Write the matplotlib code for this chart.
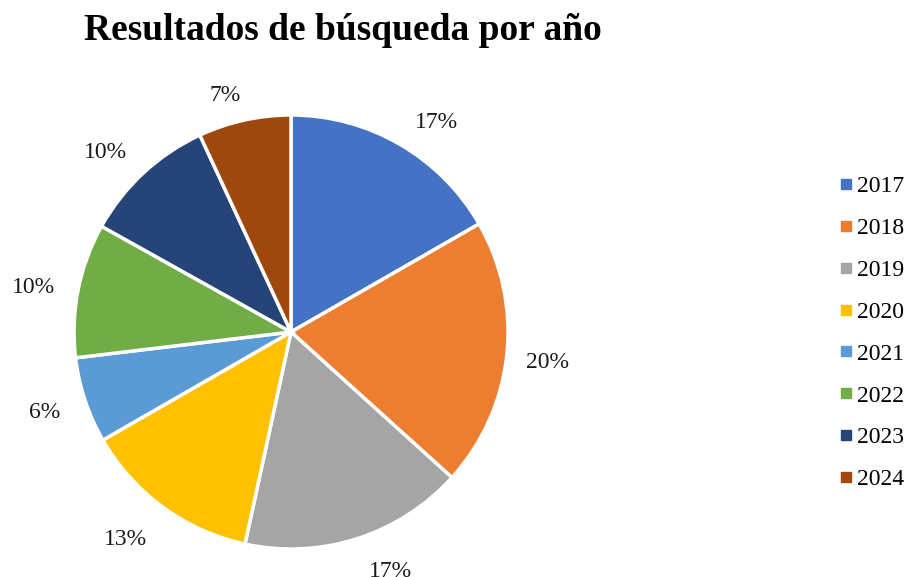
import numpy as np
import matplotlib
matplotlib.use('Agg')
import matplotlib.pyplot as plt
from matplotlib.lines import Line2D

years = ['2017', '2018', '2019', '2020', '2021', '2022', '2023', '2024']
shares = [16.7, 20.0, 16.7, 13.3, 6.4, 10.0, 10.0, 6.9]
colors = ['#4472C4', '#ED7D31', '#A5A5A5', '#FFC000',
          '#5B9BD5', '#70AD47', '#264478', '#9E480E']
# small tweaks so the labels sit where Excel put them
label_nudge = [-4.4, 0, 4.9, -2.8, -0.8, 0.7, 2.7, 3.0]
label_dist = [1.185, 1.19, 1.185, 1.215, 1.19, 1.205, 1.2, 1.145]

plt.rcParams['font.family'] = ['Liberation Serif', 'DejaVu Serif']

fig = plt.figure(figsize=(9.11, 5.77), dpi=100)
W, H = 911, 577
cx, cy, r = 291, 332, 217
ax = fig.add_axes([(cx - r) / W, (H - cy - r) / H, 2 * r / W, 2 * r / H])

wedges, texts, autotexts = ax.pie(
    shares, colors=colors, startangle=90, counterclock=False,
    autopct=lambda p: f'{p:.0f}%', pctdistance=1.19, radius=1,
    wedgeprops=dict(edgecolor='white', linewidth=2.5),
    textprops=dict(fontsize=17, color='#1a1a1a'))

for w, t, nudge, d in zip(wedges, autotexts, label_nudge, label_dist):
    ang = np.deg2rad((w.theta1 + w.theta2) / 2 + nudge)
    t.set_position((d * np.cos(ang), d * np.sin(ang) - 0.012))

ax.set_xlim(-1, 1)
ax.set_ylim(-1, 1)
ax.set_aspect('equal')
ax.axis('off')

fig.text(343 / W, 1 - 30 / H, 'Resultados de búsqueda por año',
         ha='center', va='center', fontsize=27, fontweight='bold')

handles = [Line2D([], [], marker='s', linestyle='', markersize=7,
                  color=c) for c in colors]
fig.legend(handles, years, loc='center left',
           bbox_to_anchor=(818 / W, 1 - 333 / H), frameon=False,
           fontsize=17, handlelength=0.6, handletextpad=0.15,
           labelspacing=0.86)

fig.savefig('out.png', dpi=100)
